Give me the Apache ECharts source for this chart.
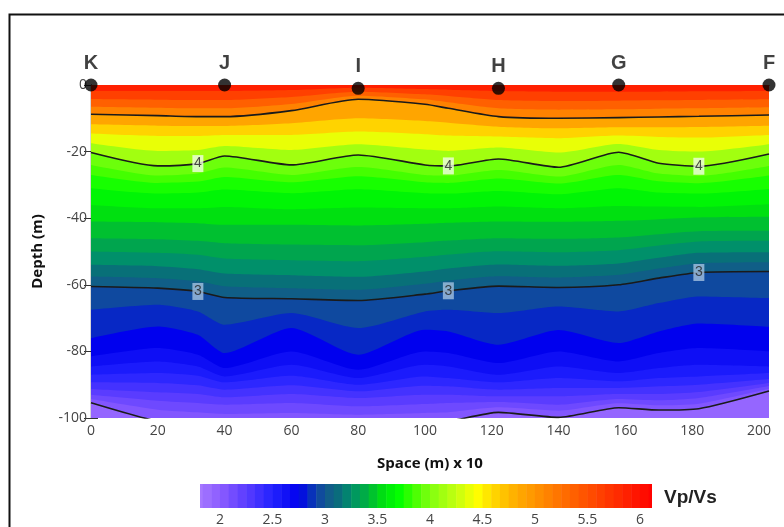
<!DOCTYPE html>
<html>
<head>
<meta charset="utf-8">
<script src="https://cdn.jsdelivr.net/npm/echarts@6/dist/echarts.min.js"></script>
<style>
  html, body { margin: 0; padding: 0; background: #fff; }
  #chart { width: 784px; height: 527px; }
</style>
</head>
<body>
<div id="chart"></div>
<script>
// sample positions along the profile (space, m x 10)
var xs = [0, 20, 32, 40, 60, 80, 100, 107, 122, 140, 158, 170, 182, 203];

// depth (m) of each Vp/Vs contour at the sample positions
var d600 = [0, 0, 0, 0, 0, 0, 0, 0, 0, 0, 0, 0, 0, 0];
var d575 = [-1.8, -1.8, -1.8, -1.8, -1.5, -0.8, -1.2, -1.4, -1.8, -2, -2, -2, -1.9, -1.8];
var d550 = [-4.2, -4.4, -4.5, -4.5, -3.6, -2, -2.8, -3.3, -4.5, -4.8, -4.7, -4.6, -4.5, -4.3];
var d525 = [-6.5, -6.8, -7, -7, -5.7, -3.2, -4.3, -5.2, -7, -7.4, -7.3, -7.1, -7, -6.7];
var d500 = [-8.8, -9.2, -9.5, -9.5, -7.7, -4.3, -5.8, -7, -9.5, -10, -9.8, -9.6, -9.4, -9];
var d475 = [-11.8, -12.2, -12.3, -12.3, -11.5, -10, -10.8, -11.3, -12.5, -13, -12.7, -12.7, -12.6, -12.2];
var d450 = [-14.6, -15.3, -15.3, -15, -15, -14, -14.8, -15.2, -15.5, -16, -15.2, -15.6, -15.8, -15];
var d425 = [-17.5, -19.8, -19.5, -18.3, -19.5, -17.8, -19.4, -19.8, -18.8, -20.3, -17.7, -19.5, -20, -17.8];
var d400 = [-20.3, -24.3, -23.6, -21.3, -24, -21, -24, -24.3, -22.2, -24.7, -20.2, -23.5, -24.4, -20.7];
var d390 = [-24, -27.2, -26.6, -24.8, -27, -24.6, -27, -27.2, -25.5, -27.5, -24, -26.6, -27.3, -24.3];
var d380 = [-27, -29.4, -29, -27.6, -29.2, -27.4, -29.2, -29.4, -28.1, -29.6, -27, -28.9, -29.5, -27.2];
var d370 = [-31, -32.6, -32.3, -31.4, -32.5, -31.3, -32.5, -32.6, -31.8, -32.8, -31, -32.3, -32.6, -31.2];
var d360 = [-36, -37, -37, -36.6, -37.3, -36.8, -37, -37, -36.5, -37, -36.3, -36.5, -36.6, -35.8];
var d350 = [-41, -41.2, -41.5, -42, -42, -42.2, -41.7, -41.4, -41, -41.1, -40.8, -40.3, -39.8, -39.6];
var d340 = [-46, -46.3, -46.8, -47.5, -47.9, -48.1, -47.2, -46.7, -46, -46.2, -45.8, -44.8, -43.9, -43.8];
var d330 = [-50, -50.4, -51, -52.1, -52.6, -52.9, -51.6, -50.9, -49.9, -50.2, -49.6, -48.2, -47, -46.8];
var d320 = [-54, -54.4, -55.3, -56.6, -57.1, -57.6, -56, -55.1, -53.9, -54.3, -53.6, -51.9, -50.4, -50.2];
var d310 = [-57.5, -58, -58.9, -60.4, -61, -61.5, -59.7, -58.7, -57.4, -57.8, -57, -55.1, -53.5, -53.2];
var d300 = [-60.5, -61, -62, -63.8, -64.2, -64.7, -62.8, -61.8, -60.4, -60.8, -60, -58, -56.3, -56];
var d290 = [-67.5, -66, -68, -72, -68.5, -73, -68, -67.5, -68.5, -66.5, -68, -65.5, -63.5, -64];
var d280 = [-76, -72.5, -75, -80.5, -73, -81, -73.5, -74, -78, -73.6, -77.5, -74, -71.6, -72.6];
var d270 = [-81.5, -79, -81, -85, -80, -85.5, -80, -80.5, -83.5, -80, -83, -80.5, -79, -80];
var d260 = [-84.5, -83, -84.5, -87.5, -84, -88, -84, -84.5, -87, -84.5, -86.5, -85, -84, -84.5];
var d250 = [-87, -86.5, -87.3, -89.3, -87.3, -90, -87.5, -88, -89.3, -88, -89, -88, -87.5, -86.5];
var d240 = [-89.3, -89.5, -90.2, -91.5, -90.2, -92, -90.3, -90.5, -91.5, -91, -91, -90.5, -90, -88.3];
var d230 = [-91.3, -92.3, -92.8, -93.8, -92.8, -94, -93, -93, -93.5, -93.5, -92.8, -92.8, -92.2, -89.5];
var d220 = [-93, -94.8, -95.5, -96, -95.5, -96.5, -95.8, -95.5, -95.2, -96, -94.3, -94.7, -94, -90.4];
var d210 = [-94.3, -97.5, -98.3, -98.8, -98.5, -99, -98.5, -98.3, -96.8, -97.8, -95.6, -96.2, -95.7, -91.2];
var d200 = [-95.4, -101, -102, -102.5, -102, -102, -101.5, -101, -98.3, -99.8, -96.9, -97.6, -97.2, -91.9];

var levels = [6.0, 5.75, 5.5, 5.25, 5.0, 4.75, 4.5, 4.25, 4.0, 3.9, 3.8, 3.7, 3.6, 3.5, 3.4,
              3.3, 3.2, 3.1, 3.0, 2.9, 2.8, 2.7, 2.6, 2.5, 2.4, 2.3, 2.2, 2.1, 2.0];
var levelDepths = [d600, d575, d550, d525, d500, d475, d450, d425, d400, d390, d380, d370, d360, d350, d340,
                   d330, d320, d310, d300, d290, d280, d270, d260, d250, d240, d230, d220, d210, d200];

// drawn black contour lines
var lineLevels = [5, 4, 3, 2];
var lineDepths = [d500, d400, d300, d200];

// contour labels (index into xs)
var labelIdx = [2, 7, 12];

// stations on the surface
var stationNames = ['K', 'J', 'I', 'H', 'G', 'F'];
var stationX = [0, 40, 80, 122, 158, 203];
var stationDepth = [0, 0, -1, -1, 0, 0];

var colorTicks = [2, 2.5, 3, 3.5, 4, 4.5, 5, 5.5, 6];

// Vp/Vs colour scale
var colorStops = [
    [1.8, '#a678ff'], [2.0, '#8c5cff'], [2.25, '#5a3cff'], [2.5, '#2222ff'], [2.75, '#0000ee'],
    [2.9, '#0a3cb0'], [3.0, '#14558f'], [3.15, '#087078'], [3.25, '#00906a'], [3.4, '#00b040'],
    [3.55, '#00e010'], [3.7, '#00ff00'], [3.85, '#44ff00'], [4.0, '#80ff10'], [4.25, '#c4ff10'],
    [4.45, '#ffff00'], [4.6, '#ffd800'], [4.8, '#ffb000'], [5.0, '#ff9400'], [5.25, '#ff7000'],
    [5.5, '#ff5000'], [5.75, '#ff3000'], [6.0, '#ff1000'], [6.15, '#ff0000']
];

function hexRgb(h) {
    return [parseInt(h.substr(1, 2), 16), parseInt(h.substr(3, 2), 16), parseInt(h.substr(5, 2), 16)];
}

function colorAt(v) {
    var s = colorStops;
    if (v <= s[0][0]) return s[0][1];
    for (var i = 0; i < s.length - 1; i++) {
        if (v <= s[i + 1][0]) {
            var t = (v - s[i][0]) / (s[i + 1][0] - s[i][0]);
            var a = hexRgb(s[i][1]), b = hexRgb(s[i + 1][1]);
            return 'rgb(' + Math.round(a[0] + (b[0] - a[0]) * t) + ',' +
                Math.round(a[1] + (b[1] - a[1]) * t) + ',' +
                Math.round(a[2] + (b[2] - a[2]) * t) + ')';
        }
    }
    return s[s.length - 1][1];
}

function pts(row) {
    return xs.map(function (x, k) { return [x, row[k]]; });
}

var SMOOTH = 0.22;
var series = [];

// filled bands: each level fills everything below it, painted top to bottom
levels.forEach(function (lv, i) {
    var next = i + 1 < levels.length ? levels[i + 1] : lv - 0.14;
    series.push({
        type: 'line',
        data: pts(levelDepths[i]),
        smooth: SMOOTH,
        symbol: 'none',
        silent: true,
        lineStyle: { width: 0 },
        areaStyle: { origin: 'start', color: colorAt((lv + next) / 2), opacity: 1 },
        z: 1
    });
});

lineLevels.forEach(function (lv, i) {
    series.push({
        type: 'line',
        data: pts(lineDepths[i]),
        smooth: SMOOTH,
        symbol: 'none',
        silent: true,
        lineStyle: { width: 1.6, color: '#1a1a1a' },
        z: 3
    });
});

// contour labels on the 4 and 3 lines
[[4, d400, '#f1fde6'], [3, d300, '#a4c2e0']].forEach(function (c) {
    series.push({
        type: 'scatter',
        data: labelIdx.map(function (k) { return [xs[k], c[1][k]]; }),
        symbol: 'rect',
        symbolSize: [11, 17],
        itemStyle: { color: c[2] },
        label: {
            show: true, position: 'inside', formatter: String(c[0]),
            fontSize: 14, color: '#222', fontFamily: 'Liberation Sans'
        },
        silent: true,
        z: 4
    });
});

series.push({
    type: 'scatter',
    data: stationNames.map(function (n, i) { return { name: n, value: [stationX[i], stationDepth[i]] }; }),
    symbolSize: 13,
    itemStyle: { color: '#000' },
    clip: false,
    label: {
        show: true, position: 'top', distance: 5, formatter: '{b}',
        fontSize: 20, fontWeight: 'bold', color: '#111', fontFamily: 'Liberation Sans'
    },
    silent: true,
    z: 5
});

// colour bar cells
var barCells = [];
for (var v = 1.75; v < 6.12; v += 1 / 12) barCells.push([v, v + 1 / 12]);

series.push({
    type: 'custom',
    xAxisIndex: 2,
    yAxisIndex: 2,
    clip: true,
    silent: true,
    data: barCells,
    renderItem: function (params, api) {
        var a = api.coord([api.value(0), 1]);
        var b = api.coord([api.value(1), 0]);
        return {
            type: 'rect',
            shape: { x: a[0], y: a[1], width: b[0] - a[0] + 0.5, height: b[1] - a[1] },
            style: { fill: colorAt((api.value(0) + api.value(1)) / 2) }
        };
    }
});

var labelFont = { fontSize: 14, color: '#444', fontFamily: 'Open Sans' };
var axisLine = { show: true, lineStyle: { color: '#333', width: 1.2 } };

var option = {
    animation: false,
    backgroundColor: '#fff',
    grid: [
        { left: 91, top: 85, width: 678, height: 333 },
        { left: 200, top: 484, width: 452, height: 29 }
    ],
    xAxis: [
        {
            type: 'value', gridIndex: 0, min: 0, max: 203,
            name: 'Space (m) x 10', nameLocation: 'middle', nameGap: 38,
            nameTextStyle: { fontSize: 15, fontWeight: 'bold', color: '#111', fontFamily: 'Open Sans' },
            axisLine: axisLine,
            axisTick: { show: true, length: 7, lineStyle: { color: '#333' }, customValues: [0, 20, 40, 60, 80, 100, 120, 140, 160, 180, 200] },
            axisLabel: Object.assign({ margin: 6, customValues: [0, 20, 40, 60, 80, 100, 120, 140, 160, 180, 200] }, labelFont),
            splitLine: { show: false }
        },
        {
            type: 'value', gridIndex: 0, min: 0, max: 203, position: 'top', show: false
        },
        {
            type: 'value', gridIndex: 1, min: 1.81, max: 6.115,
            axisLine: { show: false },
            axisTick: { show: false },
            axisLabel: Object.assign({ margin: 5, customValues: colorTicks }, labelFont),
            splitLine: { show: false }
        }
    ],
    yAxis: [
        {
            type: 'value', gridIndex: 0, min: -100, max: 0, interval: 20,
            name: 'Depth (m)', nameLocation: 'middle', nameGap: 46, nameRotate: 90,
            nameTextStyle: { fontSize: 15, fontWeight: 'bold', color: '#111', fontFamily: 'Open Sans' },
            axisLine: axisLine,
            axisTick: { show: true, length: 7, lineStyle: { color: '#333' } },
            axisLabel: Object.assign({ margin: 4 }, labelFont),
            splitLine: { show: false }
        },
        {
            type: 'value', gridIndex: 0, min: -100, max: 0, interval: 20, position: 'right',
            axisLine: axisLine,
            axisTick: { show: true, length: 7, lineStyle: { color: '#333' } },
            axisLabel: { show: false },
            splitLine: { show: false }
        },
        {
            type: 'value', gridIndex: 1, min: 0, max: 1, show: false
        }
    ],
    graphic: [
        {
            type: 'rect', left: 7, top: 12, silent: true,
            shape: { width: 900, height: 700 },
            style: { fill: 'none', stroke: '#111', lineWidth: 2 }
        },
        {
            type: 'text', left: 664, top: 488, silent: true,
            style: { text: 'Vp/Vs', fontSize: 19, fontWeight: 'bold', fill: '#222', fontFamily: 'Liberation Sans' }
        }
    ],
    series: series
};

var chart = echarts.init(document.getElementById('chart'), null, { renderer: 'canvas' });
chart.setOption(option);
</script>
</body>
</html>
